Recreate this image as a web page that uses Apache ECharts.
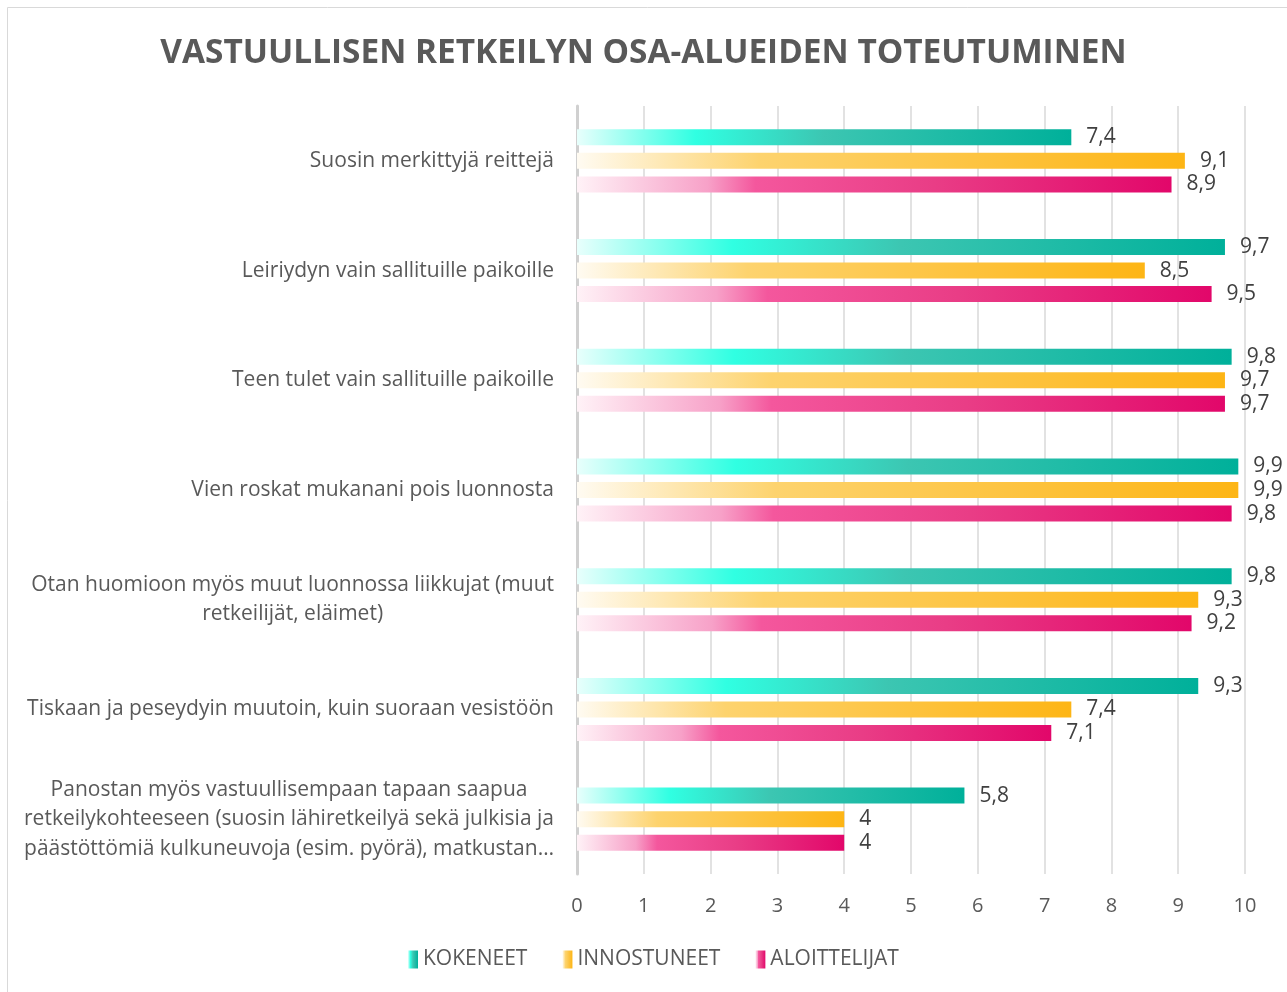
<!DOCTYPE html>
<html><head><meta charset="utf-8">
<script src="https://cdn.jsdelivr.net/npm/echarts@6/dist/echarts.min.js"></script>
<style>html,body{margin:0;padding:0;background:#fff}#c{width:1287px;height:992px}</style>
</head><body><div id="c"></div>
<script>
const categories = [
  "Suosin merkittyjä reittejä",
  "Leiriydyn vain sallituille paikoille",
  "Teen tulet vain sallituille paikoille",
  "Vien roskat mukanani pois luonnosta",
  "Otan huomioon myös muut luonnossa liikkujat (muut\nretkeilijät, eläimet)",
  "Tiskaan ja peseydyin muutoin, kuin suoraan vesistöön",
  "Panostan myös vastuullisempaan tapaan saapua\nretkeilykohteeseen (suosin lähiretkeilyä sekä julkisia ja\npäästöttömiä kulkuneuvoja (esim. pyörä), matkustan…"
];
const kokeneet = [7.4, 9.7, 9.8, 9.9, 9.8, 9.3, 5.8];
const innostuneet = [9.1, 8.5, 9.7, 9.9, 9.3, 7.4, 4];
const aloittelijat = [8.9, 9.5, 9.7, 9.8, 9.2, 7.1, 4];
const seriesNames = ["KOKENEET", "INNOSTUNEET", "ALOITTELIJAT"];
const xTicks = [0,1,2,3,4,5,6,7,8,9,10];

const G = echarts.graphic.LinearGradient;
const grads = [
  new G(0,0,1,0,[{offset:0,color:'#e8fffc'},{offset:0.24,color:'#30ffe2'},{offset:0.5,color:'#3cc6b2'},{offset:1,color:'#00b09a'}]),
  new G(0,0,1,0,[{offset:0,color:'#fffbf2'},{offset:0.3,color:'#fdd36e'},{offset:1,color:'#fdb515'}]),
  new G(0,0,1,0,[{offset:0,color:'#fff2f7'},{offset:0.22,color:'#f7a1c8'},{offset:0.3,color:'#f4579d'},{offset:0.6,color:'#e93d86'},{offset:1,color:'#e2076a'}])
];
const FONT = 'Open Sans';
const fmt = v => String(v).replace('.', ',');
const mk = (name, data, i) => ({
  name, type:'bar', data, barWidth:16,
  barGap:'47%', barCategoryGap:'42%',
  itemStyle:{color:grads[i]},
  label:{show:true, position:'right', distance:15, color:'#404040', fontFamily:FONT, fontSize:21,
    formatter:p=>fmt(p.value)}
});
const chart = echarts.init(document.getElementById('c'));
chart.setOption({
  animation:false,
  graphic:[{type:'rect', shape:{x:7.5,y:7.5,width:1290,height:990}, style:{fill:'none', stroke:'#d9d9d9', lineWidth:1}}],
  title:{text:'VASTUULLISEN RETKEILYN OSA-ALUEIDEN TOTEUTUMINEN', left:'center', top:32,
    textStyle:{fontFamily:FONT, fontWeight:'bold', fontSize:33.4, color:'#595959'}},
  legend:{bottom:17, left:403, icon:'rect', itemWidth:10, itemHeight:18, itemGap:35,
    textStyle:{fontFamily:FONT, fontSize:21, color:'#595959'}, data:seriesNames},
  grid:{left:577, right:42, top:106, bottom:118, containLabel:false},
  xAxis:{type:'value', min:0, max:10, interval:1,
    axisLine:{show:false}, axisTick:{show:false},
    splitLine:{lineStyle:{color:'#d9d9d9', width:1.5}},
    axisLabel:{color:'#595959', fontFamily:FONT, fontSize:20, margin:22}},
  yAxis:{type:'category', data:categories, inverse:true,
    axisLine:{show:true, lineStyle:{color:'#d0d0d0', width:3}}, axisTick:{show:false},
    axisLabel:{margin:23, color:'#595959', fontFamily:FONT, fontSize:21, lineHeight:29.5,
      formatter:v=>v.split('\n').map(s=>'{c|'+s+'}').join('\n'),
      rich:{c:{align:'center', fontFamily:FONT, fontSize:21, color:'#595959', lineHeight:29.5}}}},
  series:[mk(seriesNames[0],kokeneet,0), mk(seriesNames[1],innostuneet,1), mk(seriesNames[2],aloittelijat,2)]
});
</script></body></html>
